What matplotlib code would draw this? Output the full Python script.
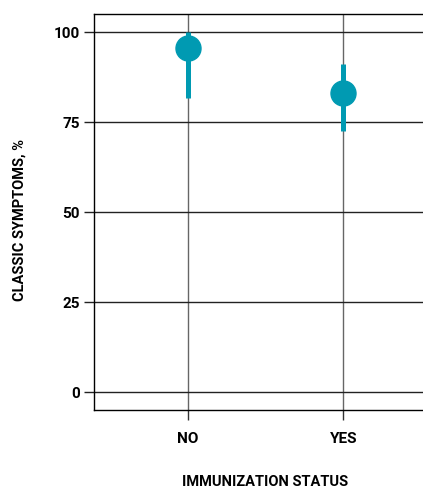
import matplotlib
matplotlib.use('Agg')
import matplotlib.pyplot as plt

plt.rcParams['font.family'] = ['Roboto', 'DejaVu Sans']
plt.rcParams['font.weight'] = 'bold'

status = ['NO', 'YES']
pct = [95.6, 83.1]
lo = [81.7, 72.5]
hi = [100.0, 91.1]
yticks = [0, 25, 50, 75, 100]

teal = '#009AB2'
x = list(range(len(status)))

fig = plt.figure(figsize=(4.23, 4.88), dpi=100)
ax = fig.add_axes([94/423, 1-410/488, (437-94)/423, (410-14)/488])

ax.set_axisbelow(True)
ax.grid(True, axis='y', color='#222222', lw=1.0)
ax.grid(True, axis='x', color='#666666', lw=1.0)

ax.vlines(x, lo, hi, color=teal, lw=3.6, zorder=3)
ax.plot(x, pct, 'o', color=teal, ms=18, zorder=4)

ax.set_xlim(-0.6, 1.6)
ax.set_ylim(-5, 105)
ax.set_xticks(x)
ax.set_xticklabels(status)
ax.set_yticks(yticks)
ax.tick_params(axis='both', length=7, width=1.0, labelsize=11, colors='black')
ax.tick_params(axis='x', pad=9, color='#333333')
ax.tick_params(axis='y', pad=3, color='#222222')
for s in ax.spines.values():
    s.set_linewidth(1.0)

ax.set_ylabel('CLASSIC SYMPTOMS, %', fontsize=10.5, fontweight='bold')
ax.yaxis.set_label_coords(-67/343, 0.48)
ax.set_xlabel('IMMUNIZATION STATUS', fontsize=10.5, fontweight='bold')
ax.xaxis.set_label_coords((265-94)/(437-94), -65/396)

fig.savefig('out.png', dpi=100)
